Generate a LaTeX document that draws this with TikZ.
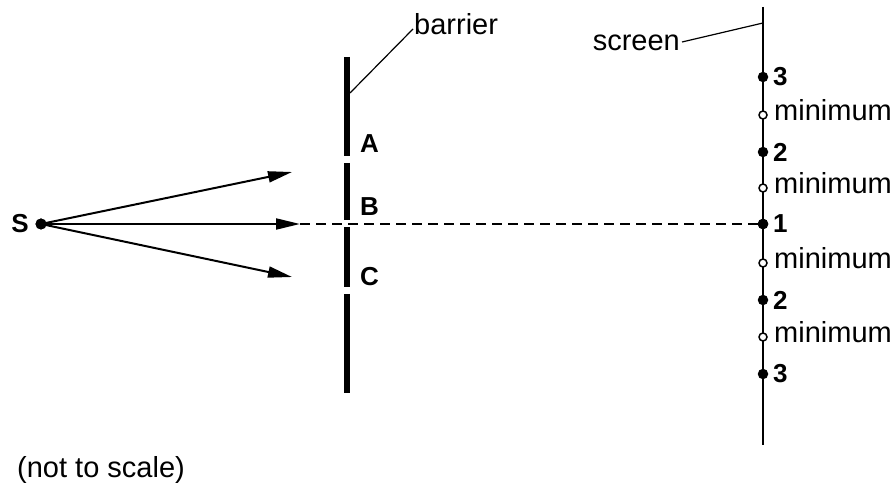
\documentclass[tikz,border=0pt]{standalone}
\usepackage{fontspec}
\setmainfont{Liberation Sans}
\usetikzlibrary{arrows.meta}
\begin{document}
\begin{tikzpicture}[x=1pt,y=-1pt,
  ray/.style={line width=2pt,-{Triangle[length=24pt,width=11pt]}},
  barseg/.style={line width=6.5pt},
  leader/.style={line width=1.2pt},
  screenline/.style={line width=2.5pt},
  dashline/.style={line width=1.6pt,dash pattern=on 10pt off 6pt},
  lbl/.style={font=\fontsize{26}{28}\selectfont\bfseries,inner sep=0pt},
  txt/.style={font=\fontsize{29}{31}\selectfont,inner sep=0pt},
  maxdot/.style={circle,fill,inner sep=0pt,minimum size=10.5pt},
  mindot/.style={circle,draw,fill=white,line width=1.5pt,inner sep=0pt,minimum size=8pt}]
\useasboundingbox (0,0) rectangle (895,486);
% source
\node[maxdot,minimum size=11pt] (S) at (41,224) {};
\node[lbl,anchor=east] (Slbl) at (29,224) {S};
\coordinate (r1) at (292,172);
\coordinate (r2) at (300,224);
\coordinate (r3) at (292,277);
% barrier
\draw[barseg] (347,57) -- (347,156);
\draw[barseg] (347,163) -- (347,220);
\draw[barseg] (347,227) -- (347,287);
\draw[barseg] (347,294) -- (347,393);
\node[lbl,anchor=west] (A) at (360,144) {A};
\node[lbl,anchor=west] (B) at (360,207) {B};
\node[lbl,anchor=west] (C) at (360,277) {C};
\coordinate (bpt) at (350,93);
\node[txt,anchor=base west] (barrier) at (414,35) {barrier};
\draw[leader] (bpt) -- ([shift={(-1,-6)}]barrier.base west);
% screen
\coordinate (stop) at (763,7);
\coordinate (sbot) at (763,445);
\draw[screenline] (stop) -- (sbot);
\coordinate (spt) at (763,23);
\node[txt,anchor=base east] (screen) at (680,51) {screen};
\draw[leader] (spt) -- ([shift={(2,-9)}]screen.base east);
% fringes
\node[maxdot] (m3a) at (763,77) {};
\node[mindot] (n1) at (763,115) {};
\node[maxdot] (m2a) at (763,152) {};
\node[mindot] (n2) at (763,188) {};
\node[maxdot] (m1) at (763,224) {};
\node[mindot] (n3) at (763,263) {};
\node[maxdot] (m2b) at (763,300) {};
\node[mindot] (n4) at (763,337) {};
\node[maxdot] (m3b) at (763,374) {};
\node[lbl,anchor=west] at (773,77) {3};
\node[lbl,anchor=west] at (773,152) {2};
\node[lbl,anchor=west] at (773,224) {1};
\node[lbl,anchor=west] at (773,300) {2};
\node[lbl,anchor=west] at (773,374) {3};
\node[txt,anchor=base west] at (774,121) {minimum};
\node[txt,anchor=base west] at (774,194) {minimum};
\node[txt,anchor=base west] at (774,269) {minimum};
\node[txt,anchor=base west] at (774,343) {minimum};
% rays
\draw[ray] (S.center) -- (r1);
\draw[ray] (S.center) -- (r2);
\draw[ray] (S.center) -- (r3);
\draw[dashline] (r2) -- (m1.center);
\node[maxdot,minimum size=11pt] at (S.center) {};
\node[maxdot] at (m1.center) {};
% note
\node[txt,anchor=base west] (note) at (17,477) {(not to scale)};
\end{tikzpicture}
\end{document}
